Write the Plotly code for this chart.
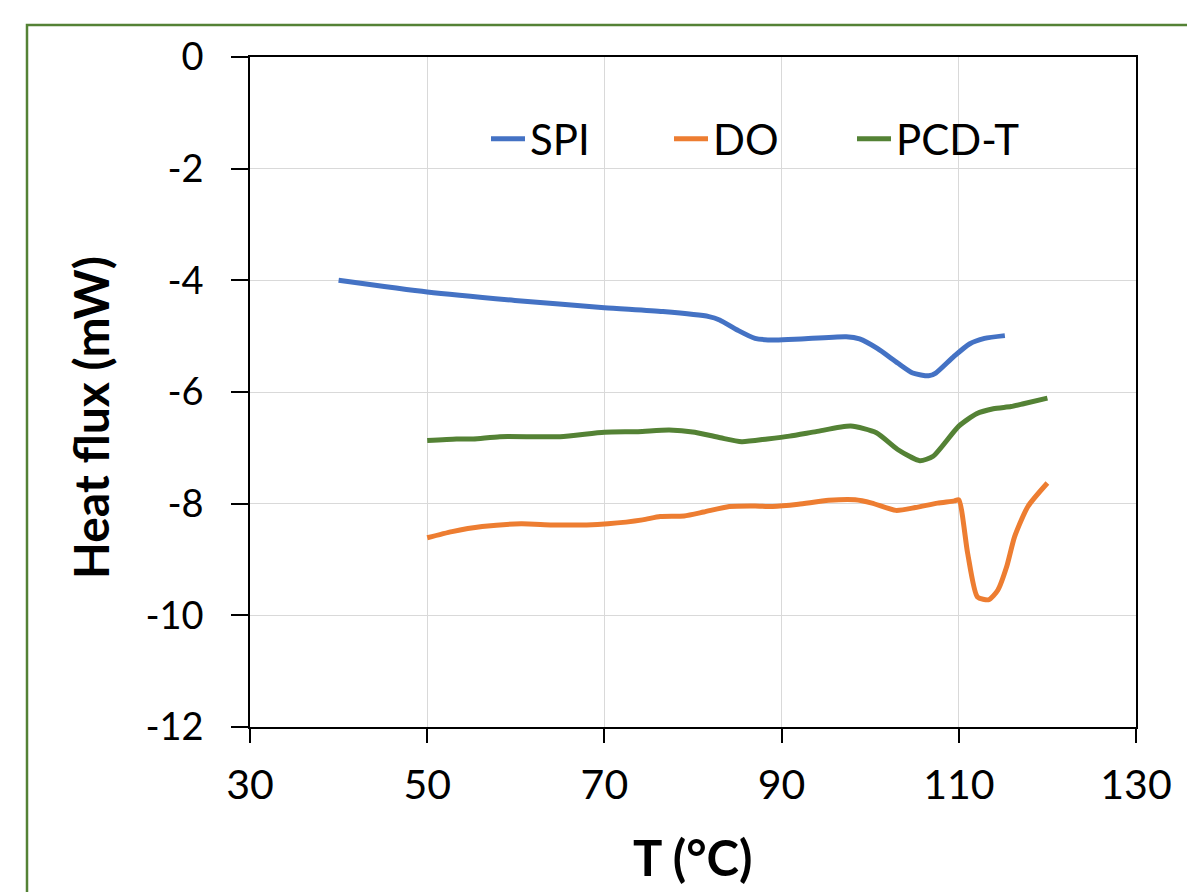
import plotly.graph_objects as go

# ---- data ----
spi_T = [40.0, 50.0, 59.9, 70.0, 76.6, 81.8, 83.0, 85.0, 87.0, 89.3, 92.2, 97.3, 98.8,
         100.8, 103.1, 104.8, 106.6, 107.4, 109.4, 111.2, 112.9, 115.2]
spi_H = [-4.00, -4.21, -4.36, -4.49, -4.56, -4.65, -4.71, -4.89, -5.04, -5.07, -5.05, -5.01, -5.05,
         -5.22, -5.48, -5.66, -5.71, -5.66, -5.37, -5.14, -5.04, -4.99]

do_T = [50.0, 52.8, 56.2, 60.6, 64.1, 68.0, 70.4, 74.3, 76.3, 79.0, 81.2, 84.1, 87.0, 89.0,
        91.9, 95.3, 98.3, 100.2, 102.9, 105.1, 107.6, 109.5, 110.0, 111.0, 112.1, 113.4,
        114.4, 115.4, 116.3, 117.8, 120.0]
do_H = [-8.61, -8.50, -8.41, -8.36, -8.38, -8.38, -8.36, -8.29, -8.23, -8.22, -8.15, -8.05, -8.04, -8.05,
        -8.01, -7.94, -7.93, -7.99, -8.12, -8.07, -7.99, -7.95, -7.93, -8.89, -9.67, -9.72,
        -9.55, -9.13, -8.59, -8.05, -7.63]

pcd_T = [50.0, 53.3, 55.2, 58.2, 65.0, 70.0, 73.8, 77.3, 80.2, 83.1, 85.5, 88.4, 90.9, 93.9,
         97.8, 100.7, 103.1, 105.6, 107.1, 110.0, 112.0, 113.9, 115.9, 117.3, 120.0]
pcd_H = [-6.87, -6.84, -6.84, -6.80, -6.80, -6.72, -6.71, -6.68, -6.72, -6.82, -6.89, -6.84, -6.79, -6.71,
         -6.61, -6.73, -7.03, -7.23, -7.15, -6.61, -6.39, -6.30, -6.26, -6.21, -6.11]

series_names = ["SPI", "DO", "PCD-T"]
series_colors = ["#4472C4", "#ED7D31", "#548235"]

x_ticks = [30, 50, 70, 90, 110, 130]
x_ticktext = ["30", "50", "70", "90", "110", "130"]
y_ticks = [0, -2, -4, -6, -8, -10, -12]
y_ticktext = ["0", "-2", "-4", "-6", "-8", "-10", "-12"]

FONT = "Lato"
# page body adds an 8px offset; plot area targeted at x 250..1136, y 57..727 on screen
OFF = 8
PL, PR, PT, PB = 250, 1136, 57, 727
PW, PH = PR - PL, PB - PT

fig = go.Figure()
for name, xs, ys, col in zip(series_names, [spi_T, do_T, pcd_T], [spi_H, do_H, pcd_H], series_colors):
    fig.add_trace(go.Scatter(x=xs, y=ys, mode="lines", name=name,
                             line=dict(color=col, width=5, shape="spline", smoothing=0.6)))

axis_common = dict(showline=True, linecolor="black", linewidth=1.5, mirror=True,
                   showgrid=True, gridcolor="#d9d9d9", gridwidth=1.3, zeroline=False,
                   ticks="outside", tickcolor="black", tickwidth=1.5)

fig.update_xaxes(range=[30, 130], tickvals=x_ticks, ticktext=x_ticktext, ticklen=14,
                 tickfont=dict(family=FONT, size=41, color="black"), ticklabelstandoff=7,
                 **axis_common)
fig.update_yaxes(range=[-12, 0], tickvals=y_ticks, ticktext=y_ticktext, ticklen=17,
                 tickfont=dict(family=FONT, size=38, color="black"), ticklabelstandoff=20,
                 **axis_common)


def px(xp):
    return (xp - PL) / PW


def py(yp):
    return (PB - yp) / PH


fig.update_layout(
    width=1195 - OFF, height=892 - OFF,
    margin=dict(l=PL - OFF, r=1195 - PR, t=PT - OFF, b=892 - PB),
    paper_bgcolor="white", plot_bgcolor="white",
    font=dict(family=FONT, color="black"),
    showlegend=True,
    legend=dict(orientation="h", x=px(486), y=py(139), xanchor="left", yanchor="middle",
                bgcolor="rgba(0,0,0,0)", font=dict(family=FONT, size=42, color="black"),
                entrywidth=134, entrywidthmode="pixels", itemwidth=34, tracegroupgap=0),
    annotations=[
        dict(text="<b>T (°C)</b>", xref="paper", yref="paper", x=0.5, y=py(857),
             xanchor="center", yanchor="middle", showarrow=False,
             font=dict(family=FONT, size=49, color="black")),
        dict(text="<b>Heat flux (mW)</b>", xref="paper", yref="paper", x=px(90),
             y=py(418), xanchor="center", yanchor="middle", textangle=-90,
             showarrow=False, font=dict(family=FONT, size=48, color="black")),
    ],
    shapes=[
        dict(type="rect", xref="paper", yref="paper",
             x0=px(27), x1=px(1230), y0=py(930), y1=py(25),
             line=dict(color="#548235", width=2.5), fillcolor="rgba(0,0,0,0)", layer="below"),
    ],
)

fig.write_html("out.html")
